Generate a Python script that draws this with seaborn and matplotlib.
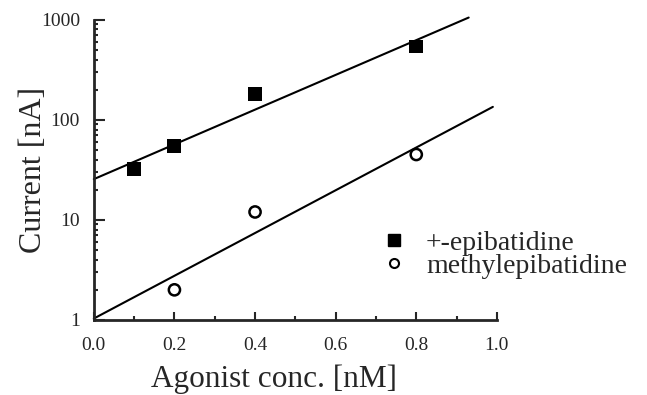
import numpy as np
import pandas as pd
import matplotlib
matplotlib.use('Agg')
import matplotlib.pyplot as plt
import seaborn as sns
from matplotlib.ticker import LogLocator, MultipleLocator, FixedLocator
from matplotlib.lines import Line2D

# data
epi_conc = [0.1, 0.2, 0.4, 0.8]
epi_current = [32, 55, 180, 540]
methyl_conc = [0.2, 0.4, 0.8]
methyl_current = [2, 12, 45]
series_names = ['+-epibatidine', 'methylepibatidine']
x_ticks = [0.0, 0.2, 0.4, 0.6, 0.8, 1.0]
y_ticks = [1, 10, 100, 1000]
fit_end = [0.93, 0.99]  # where the drawn regression lines stop

sns.set_style('ticks')
plt.rcParams['font.family'] = ['Liberation Serif', 'DejaVu Serif']

df = pd.DataFrame({
    'conc': epi_conc + methyl_conc,
    'current': epi_current + methyl_current,
    'agonist': [series_names[0]] * len(epi_conc) + [series_names[1]] * len(methyl_conc),
})

fig = plt.figure(figsize=(6.47, 3.95), dpi=100)
ax = fig.add_axes([0.145, 0.19, 0.623, 0.76])

sns.scatterplot(data=df, x='conc', y='current', hue='agonist', style='agonist',
                markers={series_names[0]: 's', series_names[1]: 'o'},
                palette={series_names[0]: 'black', series_names[1]: 'black'},
                ax=ax, s=100, legend=False, zorder=3)
# open circles for methylepibatidine
pts = ax.collections[0]
pts.set_facecolor(['black'] * len(epi_conc) + ['white'] * len(methyl_conc))
pts.set_edgecolor('black')
pts.set_linewidth([0] * len(epi_conc) + [1.8] * len(methyl_conc))
pts.set_sizes([100] * len(epi_conc) + [65] * len(methyl_conc))

# log-linear fits
for xs, ys, xe in [(epi_conc, epi_current, fit_end[0]), (methyl_conc, methyl_current, fit_end[1])]:
    k, b = np.polyfit(xs, np.log10(ys), 1)
    xx = np.linspace(0, xe, 50)
    ax.plot(xx, 10 ** (b + k * xx), color='black', lw=1.5, zorder=2, clip_on=False)

ax.set_yscale('log')
ax.set_xlim(0, 1.0)
ax.set_ylim(1, 1000)
ax.xaxis.set_major_locator(FixedLocator(x_ticks))
ax.xaxis.set_minor_locator(MultipleLocator(0.1))
ax.yaxis.set_major_locator(FixedLocator(y_ticks))
ax.yaxis.set_minor_locator(LogLocator(base=10, subs=np.arange(2, 10)))
ax.set_xticklabels(['%.1f' % t for t in x_ticks])
ax.set_yticklabels([str(t) for t in y_ticks])
ax.tick_params(direction='in', which='both', labelsize=14, width=1.5)
ax.tick_params(which='major', length=6)
ax.tick_params(which='minor', length=3)
ax.tick_params(axis='x', which='major', pad=12)
ax.tick_params(axis='y', which='major', length=8, pad=10)
sns.despine(ax=ax)
for sp in ['left', 'bottom']:
    ax.spines[sp].set_linewidth(2)

ax.set_xlabel('Agonist conc. [nM]', fontsize=22.5)
ax.xaxis.set_label_coords(0.447, -0.15, transform=ax.transAxes)
ax.set_ylabel('Current [nA]', fontsize=23, labelpad=-5)

# legend
handles = [Line2D([], [], marker='s', ls='', color='black', markersize=8),
           Line2D([], [], marker='o', ls='', markerfacecolor='white', markeredgecolor='black',
                  markeredgewidth=1.5, markersize=6.5)]
ax.legend(handles, series_names, loc='upper left', bbox_to_anchor=(0.69, 0.335),
          frameon=False, fontsize=20, handletextpad=0.75, labelspacing=-0.1,
          handlelength=0.8, borderaxespad=0)

fig.savefig('out.png', dpi=100)
